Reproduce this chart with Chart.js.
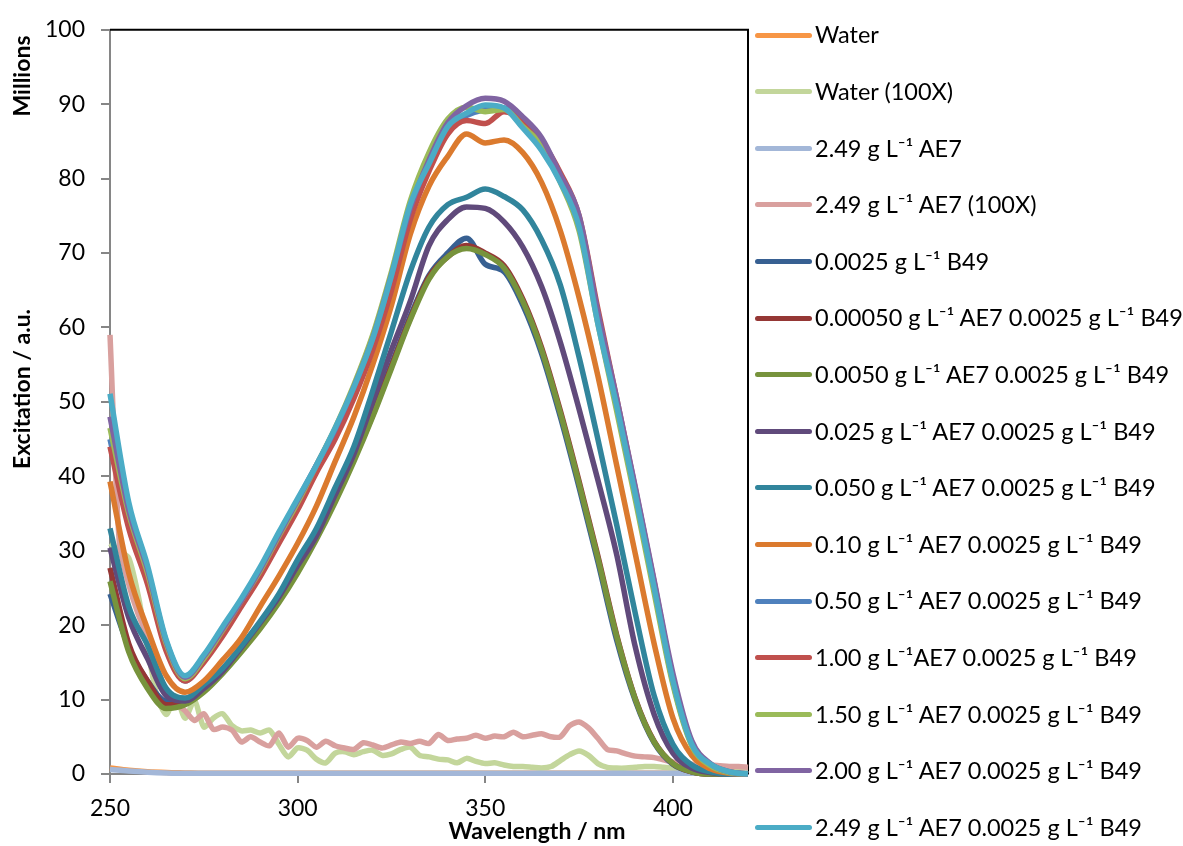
<!DOCTYPE html>
<html>
<head>
<meta charset="utf-8">
<script src="https://cdn.jsdelivr.net/npm/chart.js@4.4.1/dist/chart.umd.min.js"></script>
<style>
  body { margin: 0; background: #fff; }
  #wrap { position: relative; width: 1183px; height: 846px; font-family: Lato, sans-serif; color: #000; }
  #wrap canvas { position: absolute; left: 0; top: 0; }
  .ttl { position: absolute; font-weight: bold; font-size: 23px; line-height: 1.2; white-space: nowrap; }
  .rot { transform: translate(-50%, -50%) rotate(-90deg); }
  .leg-line { position: absolute; left: 755px; width: 57px; height: 5px; border-radius: 3px; }
  .leg-text { position: absolute; left: 815px; font-size: 23.5px; line-height: 1.2; white-space: nowrap; }
</style>
</head>
<body>
<div id="wrap">
  <canvas id="myChart" width="1183" height="846"></canvas>
  <div class="ttl rot" style="left:22px; top:76px;">Millions</div>
  <div class="ttl rot" style="left:22px; top:389px;">Excitation / a.u.</div>
  <div class="ttl" style="left:537px; top:817px; transform: translateX(-50%);">Wavelength / nm</div>
  <div id="legend"></div>
</div>
<script>
// wavelength grids (nm)
const wavelengths = [250,255,260,265,270,275,280,285,290,295,300,305,310,315,320,325,330,335,
  340,345,350,355,360,365,370,375,380,385,390,395,400,405,410,415,420];
const wavelengthsFine = [250,252.5,255,257.5,260,262.5,265,267.5,270,272.5,
  275,277.5,280,282.5,285,287.5,290,292.5,295,297.5,
  300,302.5,305,307.5,310,312.5,315,317.5,320,322.5,
  325,327.5,330,332.5,335,337.5,340,342.5,345,347.5,
  350,352.5,355,357.5,360,362.5,365,367.5,370,372.5,
  375,377.5,380,382.5,385,387.5,390,392.5,395,397.5,
  400,402.5,405,407.5,410,412.5,415,417.5,420];

const xTickValues = [250, 300, 350, 400];
const yTickValues = [0, 10, 20, 30, 40, 50, 60, 70, 80, 90, 100];

// excitation, millions a.u.
const water = [0.8,0.5,0.3,0.2,0.15,0.1,0.1,0.1,0.1,0.1,0.1,0.1,0.1,0.1,0.1,0.1,0.1,0.1,
  0.1,0.1,0.1,0.1,0.1,0.1,0.1,0.1,0.1,0.1,0.1,0.1,0.1,0.1,0.1,0.1,0.1];
const water100x = [31,30,29,24,17,10.5,8,10.5,7.5,9.9,
  6.3,7.5,8.1,6.5,5.8,5.9,5.5,5.9,4,2.3,
  3.5,3.2,2.0,1.5,2.8,3.0,2.6,3.0,3.2,2.5,
  2.7,3.3,3.6,2.5,2.3,2.0,1.9,1.5,2.1,1.7,
  1.4,1.5,1.2,1.0,1.0,0.9,0.8,1.0,1.8,2.6,
  3.1,2.5,1.4,0.9,0.8,0.8,0.9,1.0,1.0,0.9,
  0.8,0.8,0.8,0.8,0.7,0.7,0.7,0.7,0.7];
const ae7 = [0.6,0.4,0.25,0.15,0.1,0.1,0.1,0.1,0.1,0.1,0.1,0.1,0.1,0.1,0.1,0.1,0.1,0.1,
  0.1,0.1,0.1,0.1,0.1,0.1,0.1,0.1,0.1,0.1,0.1,0.1,0.1,0.1,0.1,0.1,0.1];
const ae7x100 = [59,31,25.5,21.5,18.5,14.5,11,9.5,8.5,7.2,
  8.1,6,6.3,5.9,4.3,5.0,4.3,3.8,5.5,3.6,
  4.8,4.5,3.6,4.4,3.8,3.5,3.3,4.2,3.9,3.5,
  3.9,4.3,4.1,4.4,4.1,5.3,4.5,4.7,4.8,5.2,
  4.8,5.1,5.0,5.6,5.0,5.2,5.4,5.0,5.0,6.5,
  7.0,6.2,4.8,3.3,3.1,2.7,2.4,2.3,2.2,1.9,
  1.6,1.4,1.3,1.2,1.2,1.1,1.0,1.0,0.9];
const b49 = [24.2,17,12.5,9.8,9.8, 11.5,14,17,20.2,23.8, 27.8,32,37,42.5,48.5,
  55,61.5,67,70,72, 68.5,67.5,63,56.5,48, 38.5,28.5,18,9.8,4.2, 1.3,0.3,0,0,0];
const ae7_00050 = [27.7,17.5,12.5,9.3,9.5, 11.2,13.8,16.8,20,23.5, 27.3,31.8,36.8,42.3,48.2,
  54.8,61.2,66.8,69.5,71, 70,68.3,63.8,57.3,48.8, 39.3,29.3,18.7,10.1,4.4, 1.4,0.3,0,0,0];
const ae7_0050 = [25.9,16.4,11.5,8.8,9.3, 11,13.5,16.4,19.5,23, 27,31.5,36.5,42,48,
  54.5,61,66.5,69.5,70.6, 69.8,68,63.5,57,48.5, 39,29,18.5,10,4.3, 1.4,0.3,0,0,0];
const ae7_025 = [30.4,21,15.5,10.5,9.8, 11.5,13.8,17,20.3,23.8, 28,32,37.5,43,50,
  57,63.5,71,74.5,76.2, 76,74.2,70.8,65.5,58, 49,39.5,29.5,17,8, 2.8,0.8,0.2,0,0];
const ae7_050 = [33,22.5,17.3,11.5,10.2, 12,14.2,17.2,20.5,24.2, 28.8,33,38.5,44,51.5,
  59.5,67.5,73.5,76.5,77.5, 78.6,77.6,75.8,71.8,65.7, 56,45,33.5,21.5,10.5, 4,1.2,0.3,0,0];
const ae7_10 = [39.3,27,19.5,13.2,11, 12.5,15.3,18.3,22.5,26.6, 31,36,42,48,55,
  63,72.5,79,83,86, 84.8,85.2,83.5,79.5,73, 64,53.5,41.5,29.5,17.5, 7.5,2.5,0.7,0.1,0];
const ae7_50 = [45,34,26.5,17,12.5, 15.5,19,23,27,31.5, 36,41,45.5,51,57.5,
  66,75.5,81.5,87,88.5, 89.3,89.5,87.2,84.3,80, 74,61.5,49.5,37.5,25, 12.3,4,1.2,0.2,0];
const ae7_100 = [44,33,25.5,16.5,12.5, 15,18.5,22.5,26.5,31, 35.5,40.5,45,50.5,57,
  65,74.5,81,86,87.8, 87.4,89,87.8,85,80.8, 75,62.5,50.5,38.3,25.8, 13,4.3,1.3,0.3,0];
const ae7_150 = [46.5,35,27,17.5,12.8, 15.5,19.3,23.3,27.3,32, 36.5,41.5,46.5,52.3,59,
  67.5,77,83.5,88,89.6, 89,89.3,87,84.5,79.5, 73,60.5,48.8,36.8,24.3, 12,3.8,1.1,0.2,0];
const ae7_200 = [48,35.5,27.5,17.8,13, 15.8,19.5,23.3,27.5,32.2, 36.8,41.5,46.3,52,58.5,
  67,76,82.5,87.5,89.8, 90.8,90.4,88.3,85.5,80.5, 75,62,50.5,38.5,26, 13.5,4.5,1.4,0.3,0];
const ae7_249 = [51.1,36.5,28,18,13.2, 16,19.8,23.6,27.8,32.5, 37,41.5,46.5,52,58.5,
  67,76.5,82,87,88.8, 89.9,89.5,86.8,83.8,79.5, 73.5,60.5,49.5,37.5,25, 12.5,4,1.3,0.3,0];

const seriesLabels = [
  "Water", "Water (100X)", "2.49 g L⁻¹ AE7", "2.49 g L⁻¹ AE7 (100X)", "0.0025 g L⁻¹ B49",
  "0.00050 g L⁻¹ AE7 0.0025 g L⁻¹ B49", "0.0050 g L⁻¹ AE7 0.0025 g L⁻¹ B49",
  "0.025 g L⁻¹ AE7 0.0025 g L⁻¹ B49", "0.050 g L⁻¹ AE7 0.0025 g L⁻¹ B49",
  "0.10 g L⁻¹ AE7 0.0025 g L⁻¹ B49", "0.50 g L⁻¹ AE7 0.0025 g L⁻¹ B49",
  "1.00 g L⁻¹AE7 0.0025 g L⁻¹ B49", "1.50 g L⁻¹ AE7 0.0025 g L⁻¹ B49",
  "2.00 g L⁻¹ AE7 0.0025 g L⁻¹ B49", "2.49 g L⁻¹ AE7 0.0025 g L⁻¹ B49"
];
const seriesValues = [water, water100x, ae7, ae7x100, b49, ae7_00050, ae7_0050, ae7_025,
  ae7_050, ae7_10, ae7_50, ae7_100, ae7_150, ae7_200, ae7_249];
const seriesColors = ["#F79646", "#C3D69B", "#A3B7D8", "#D9A09E", "#376092", "#953735", "#77933C",
  "#604A7B", "#31859C", "#DB7A2E", "#4F81BD", "#C0504D", "#9BBB59", "#8064A2", "#4BACC6"];

// excel draws later series on top; chart.js draws index 0 on top, so reverse
let datasets = seriesValues.map((vals, i) => {
  const xs = vals.length === wavelengthsFine.length ? wavelengthsFine : wavelengths;
  return {
    label: seriesLabels[i],
    data: vals.map((v, j) => ({ x: xs[j], y: v })),
    borderColor: seriesColors[i],
    backgroundColor: seriesColors[i],
    borderWidth: 5.5,
    pointRadius: 0,
    tension: xs === wavelengthsFine ? 0.25 : 0,
    cubicInterpolationMode: xs === wavelengthsFine ? 'default' : 'monotone',
    clip: false
  };
}).reverse();

const frame = {
  id: 'frame',
  beforeDatasetsDraw(chart) {
    const { ctx, chartArea: a } = chart;
    ctx.save();
    ctx.strokeStyle = '#000';
    ctx.lineWidth = 2;
    ctx.beginPath();
    ctx.moveTo(a.left, a.top);
    ctx.lineTo(a.right, a.top);
    ctx.lineTo(a.right, a.bottom);
    ctx.stroke();
    ctx.restore();
  }
};

const tickFont = { family: 'Lato', size: 23 };
const ctx = document.getElementById("myChart");
const chart = new Chart(ctx, {
  type: 'line',
  data: { datasets: datasets },
  options: {
    responsive: false,
    animation: false,
    layout: { padding: { left: 0, top: 22, right: 435, bottom: 0 } },
    plugins: { legend: { display: false }, tooltip: { enabled: false } },
    scales: {
      x: {
        type: 'linear', min: 250, max: 420,
        afterBuildTicks: s => { s.ticks = xTickValues.map(v => ({ value: v })); },
        afterFit: s => { s.height = 72; },
        ticks: { color: '#000', font: tickFont, padding: 12, maxRotation: 0 },
        grid: { drawOnChartArea: false, tickLength: 9, color: '#868686', lineWidth: 2 },
        border: { color: '#868686', width: 2 }
      },
      y: {
        min: 0, max: 100,
        afterBuildTicks: s => { s.ticks = yTickValues.map(v => ({ value: v })); },
        afterFit: s => { s.width = 110; },
        ticks: { color: '#000', font: tickFont, padding: 16 },
        grid: { drawOnChartArea: false, tickLength: 9, color: '#868686', lineWidth: 2 },
        border: { color: '#868686', width: 2 }
      }
    }
  },
  plugins: [frame]
});

// legend in excel order
const legendEl = document.getElementById('legend');
seriesLabels.forEach((label, i) => {
  const cy = 35 + i * 56.6;
  const line = document.createElement('div');
  line.className = 'leg-line';
  line.style.top = (cy - 2.5) + 'px';
  line.style.background = seriesColors[i];
  legendEl.appendChild(line);
  const txt = document.createElement('div');
  txt.className = 'leg-text';
  txt.style.top = (cy - 14.6) + 'px';
  txt.textContent = label;
  legendEl.appendChild(txt);
});
</script>
</body>
</html>
